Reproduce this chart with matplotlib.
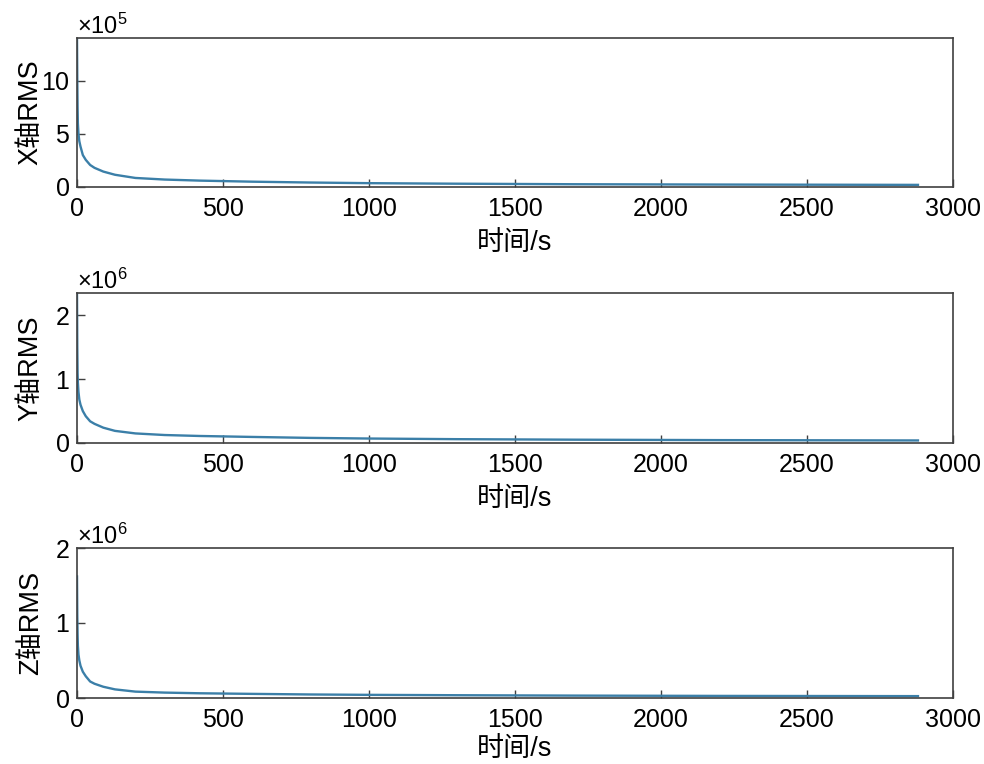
import matplotlib
matplotlib.use("Agg")
import matplotlib.pyplot as plt
from matplotlib.ticker import ScalarFormatter, MultipleLocator

plt.rcParams['font.family'] = ['Liberation Sans', 'Noto Sans CJK SC', 'DejaVu Sans']
plt.rcParams['mathtext.fontset'] = 'custom'
plt.rcParams['mathtext.rm'] = 'Liberation Sans'
plt.rcParams['mathtext.it'] = 'Liberation Sans'
plt.rcParams['font.size'] = 18

# time samples (s)
t = [0, 1, 2, 3, 5, 8, 12, 20, 30, 45, 60, 90, 130, 200, 300, 420, 600, 800,
     1000, 1300, 1700, 2200, 2880]
# RMS values
x_rms = [1.40e6, 1.0e6, 7.5e5, 6.0e5, 5.0e5, 4.3e5, 3.8e5, 3.0e5, 2.55e5, 2.07e5,
         1.8e5, 1.45e5, 1.15e5, 0.85e5, 0.70e5, 0.60e5, 0.50e5, 0.42e5, 0.36e5,
         0.31e5, 0.26e5, 0.23e5, 0.20e5]
y_rms = [2.35e6, 1.5e6, 1.1e6, 0.95e6, 0.80e6, 0.68e6, 0.60e6, 0.50e6, 0.42e6,
         0.34e6, 0.30e6, 0.24e6, 0.19e6, 0.15e6, 0.125e6, 0.11e6, 0.095e6,
         0.08e6, 0.07e6, 0.06e6, 0.052e6, 0.045e6, 0.04e6]
z_rms = [1.62e6, 1.1e6, 0.85e6, 0.70e6, 0.58e6, 0.50e6, 0.43e6, 0.35e6, 0.29e6,
         0.22e6, 0.19e6, 0.15e6, 0.115e6, 0.085e6, 0.072e6, 0.063e6, 0.055e6,
         0.047e6, 0.042e6, 0.037e6, 0.032e6, 0.028e6, 0.025e6]

series = [x_rms, y_rms, z_rms]
ylabels = ['X轴RMS', 'Y轴RMS', 'Z轴RMS']
ylims = [(0, 1.4e6), (0, 2.35e6), (0, 2.0e6)]
ysteps = [5e5, 1e6, 1e6]
orders = [5, 6, 6]
xlabel = '时间/s'

fig = plt.figure(figsize=(9.84, 7.64), dpi=100)
positions = [
    [77/984, 1-187/764, 876/984, 149/764],
    [77/984, 1-443/764, 876/984, 150/764],
    [77/984, 1-698/764, 876/984, 150/764],
]
xlabel_y = [-0.29, -0.29, -0.255]
line_color = '#3b7fa8'
spine_color = '#404040'

for pos, vals, yl, lim, step, order, ly in zip(positions, series, ylabels, ylims,
                                               ysteps, orders, xlabel_y):
    ax = fig.add_axes(pos)
    ax.plot(t, vals, color=line_color, lw=1.7)
    ax.set_xlim(0, 3000)
    ax.set_ylim(*lim)
    ax.xaxis.set_major_locator(MultipleLocator(500))
    ax.yaxis.set_major_locator(MultipleLocator(step))
    fmt = ScalarFormatter(useMathText=True)
    fmt.set_powerlimits((order, order))
    ax.yaxis.set_major_formatter(fmt)
    ax.yaxis.get_offset_text().set_fontsize(17)
    for s in ax.spines.values():
        s.set_color(spine_color)
        s.set_linewidth(1.2)
    ax.tick_params(direction='in', length=6, width=1.0, color=spine_color,
                   labelsize=18, top=False, right=False)
    ax.tick_params(axis='x', pad=7)
    ax.tick_params(axis='y', pad=5)
    ax.set_ylabel(yl, fontsize=19.5)
    ax.yaxis.set_label_coords(-0.038, 0.5)
    ax.set_xlabel(xlabel, fontsize=19.5)
    ax.xaxis.set_label_coords(0.5, ly)
    ax.xaxis.label.set_va('top')

fig.savefig('out.png', dpi=100)
